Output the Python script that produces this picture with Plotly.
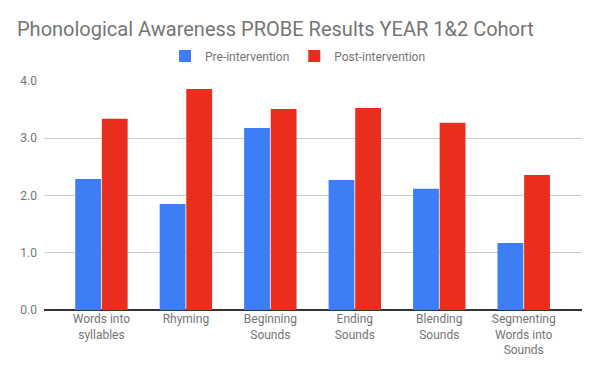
import plotly.graph_objects as go

categories = ["Words into<br>syllables", "Rhyming", "Beginning<br>Sounds", "Ending<br>Sounds",
              "Blending<br>Sounds", "Segmenting<br>Words into<br>Sounds"]
pre_values = [2.29, 1.85, 3.18, 2.27, 2.12, 1.17]
post_values = [3.34, 3.86, 3.51, 3.53, 3.27, 2.36]
y_ticks = [0, 1, 2, 3, 4]

BLUE = "#3D7DF6"
RED = "#E92E1D"
GRAY = "#757575"

# page body has an 8px default margin, so the figure is sized/placed to compensate
W, H = 590, 361

fig = go.Figure()
fig.add_trace(go.Bar(name="Pre-intervention", x=categories, y=pre_values,
                     marker=dict(color=BLUE, line=dict(width=0))))
fig.add_trace(go.Bar(name="Post-intervention", x=categories, y=post_values,
                     marker=dict(color=RED, line=dict(width=0))))

fig.update_layout(
    width=W, height=H,
    margin=dict(l=36, r=16, t=73, b=59, autoexpand=False),
    paper_bgcolor="white", plot_bgcolor="white",
    font=dict(family="Roboto", size=12, color=GRAY),
    title=dict(text="Phonological Awareness PROBE Results YEAR 1&2 Cohort",
               x=9/W, xanchor="left", xref="container",
               y=1-21/H, yanchor="middle", yref="container",
               font=dict(family="Roboto", size=20, color=GRAY)),
    barmode="group", bargap=0.37, bargroupgap=0.03,
    legend=dict(orientation="h", x=290/W, xanchor="center", xref="container",
                y=1-48/H, yanchor="middle", yref="container",
                font=dict(size=12, color=GRAY), itemwidth=30,
                bgcolor="rgba(0,0,0,0)"),
    xaxis=dict(range=[-0.68, 5.69], showgrid=False, ticks="", showline=False,
               tickfont=dict(size=12, color=GRAY), zeroline=False, automargin=False),
    yaxis=dict(range=[0, 4], tickvals=y_ticks, tickformat=".1f",
               showgrid=True, gridcolor="#CCCCCC", gridwidth=1,
               zeroline=True, zerolinecolor="#333333", zerolinewidth=1.5,
               ticks="", showline=False, ticklabelstandoff=6, automargin=False,
               tickfont=dict(size=12, color=GRAY)),
)

fig.write_html("out.html")
